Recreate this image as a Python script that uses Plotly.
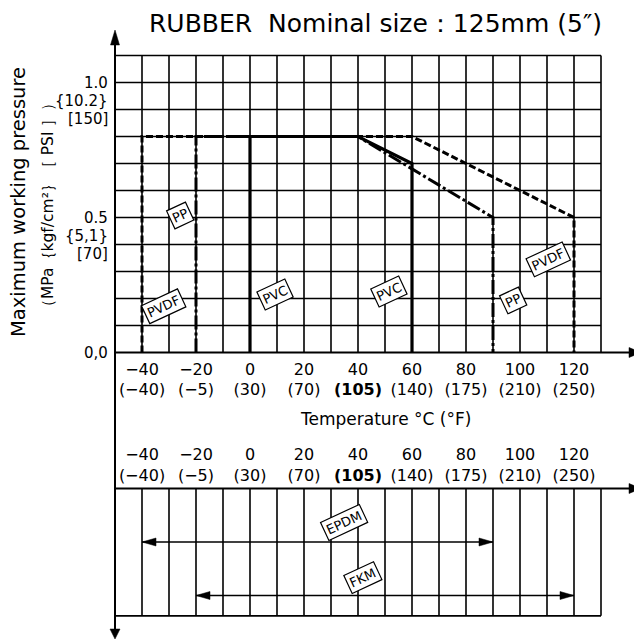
import plotly.graph_objects as go

# ---------------- data ----------------
temp_ticks_c = [-40, -20, 0, 20, 40, 60, 80, 100, 120]
temp_ticks_f = [-40, -5, 30, 70, 105, 140, 175, 210, 250]
grid_temps = [-40, -30, -20, -10, 0, 10, 20, 30, 40, 50, 60, 70, 80, 90, 100, 110, 120, 130]
grid_pressures = [0.1, 0.2, 0.3, 0.4, 0.5, 0.6, 0.7, 0.8, 0.9, 1.0, 1.1]

pressure_ticks = [1.0, 0.5, 0.0]
pressure_tick_lines = [["1.0", "{10.2}", "[150]"], ["0.5", "{5,1}", "[70]"], ["0,0"]]

pvdf_t = [-40, -40, 60, 120, 120]
pvdf_p = [0, 0.8, 0.8, 0.5, 0]
pp_t = [-20, -20, 40, 90, 90]
pp_p = [0, 0.8, 0.8, 0.5, 0]
pvc_t = [0, 0, 40, 60, 60]
pvc_p = [0, 0.8, 0.8, 0.7, 0]

rubber_names = ["EPDM", "FKM"]
rubber_min = [-40, -20]
rubber_max = [90, 120]
rubber_rows = [1, 2]

# ---------------- layout constants ----------------
W, H = 642, 641
OFF = 8  # page body margin


def px2T(px):
    return (px - 250) / 2.7


def py2P(py):
    return (352.5 - py) / 270


def py2V(py):
    return (py - 488.5) / 53.5


def pxp(px):
    return (px - OFF) / W


def pyp(py):
    return 1 - (py - OFF) / H


X_RANGE = [px2T(OFF), px2T(OFF + W)]
Y_RANGE = [py2P(OFF + H), py2P(OFF)]
Y2_RANGE = [py2V(OFF + H), py2V(OFF)]
T_AXIS = -50
T_GRID_MAX = 130
T_TIP = px2T(641)
P_TOP_TIP = py2P(30)
P_BOTTOM_TIP = py2P(639)
LOWER_BOTTOM = 2.38
FONT = "DejaVu Sans"

fig = go.Figure()

# upper grid
gx, gy = [], []
for t in grid_temps:
    gx += [t, t, None]
    gy += [0, grid_pressures[-1], None]
for p in grid_pressures:
    gx += [T_AXIS, T_GRID_MAX, None]
    gy += [p, p, None]
fig.add_trace(go.Scatter(x=gx, y=gy, mode="lines", line=dict(color="black", width=1.6),
                         hoverinfo="skip", showlegend=False))

# lower grid
lx, ly = [], []
for t in grid_temps:
    lx += [t, t, None]
    ly += [0, LOWER_BOTTOM, None]
lx += [T_AXIS, T_GRID_MAX, None]
ly += [LOWER_BOTTOM, LOWER_BOTTOM, None]
fig.add_trace(go.Scatter(x=lx, y=ly, xaxis="x2", yaxis="y2", mode="lines",
                         line=dict(color="black", width=1.6), hoverinfo="skip", showlegend=False))

# axis lines
fig.add_trace(go.Scatter(x=[T_AXIS, T_AXIS], y=[P_TOP_TIP - 0.02, P_BOTTOM_TIP + 0.02], mode="lines",
                         line=dict(color="black", width=2), hoverinfo="skip", showlegend=False))
fig.add_trace(go.Scatter(x=[T_AXIS, T_TIP - 3], y=[0, 0], mode="lines",
                         line=dict(color="black", width=2), hoverinfo="skip", showlegend=False))
fig.add_trace(go.Scatter(x=[T_AXIS, T_TIP - 3], y=[0, 0], xaxis="x2", yaxis="y2", mode="lines",
                         line=dict(color="black", width=2), hoverinfo="skip", showlegend=False))

# series
fig.add_trace(go.Scatter(x=pvdf_t, y=pvdf_p, mode="lines", name="PVDF",
                         line=dict(color="black", width=3, dash="7px,3px"), showlegend=False))
fig.add_trace(go.Scatter(x=pp_t, y=pp_p, mode="lines", name="PP",
                         line=dict(color="black", width=3, dash="14px,3px,3px,3px"), showlegend=False))
fig.add_trace(go.Scatter(x=pvc_t, y=pvc_p, mode="lines", name="PVC",
                         line=dict(color="black", width=3.2), showlegend=False))

# rubber ranges
for name, a, b, r in zip(rubber_names, rubber_min, rubber_max, rubber_rows):
    fig.add_trace(go.Scatter(x=[a, b], y=[r, r], xaxis="x2", yaxis="y2", mode="lines", name=name,
                             line=dict(color="black", width=1.6), showlegend=False))

shapes = []


def arrowhead(x, y, direction, xref="x", yref="y", L=15, hw=4.5):
    paths = {
        "up": f"M0,0 L{-hw},{-L} L{hw},{-L} Z",
        "down": f"M0,0 L{-hw},{L} L{hw},{L} Z",
        "right": f"M0,0 L{-L},{-hw} L{-L},{hw} Z",
        "left": f"M0,0 L{L},{-hw} L{L},{hw} Z",
    }
    shapes.append(dict(type="path", xref=xref, yref=yref, xsizemode="pixel", ysizemode="pixel",
                       xanchor=x, yanchor=y, path=paths[direction],
                       fillcolor="black", line=dict(color="black", width=0.5)))


arrowhead(T_AXIS, P_TOP_TIP, "up")
arrowhead(T_AXIS, P_BOTTOM_TIP, "down", L=10, hw=5)
arrowhead(T_TIP, 0, "right", L=12, hw=5)
arrowhead(T_TIP, 0, "right", xref="x2", yref="y2", L=12, hw=5)
for a, b, r in zip(rubber_min, rubber_max, rubber_rows):
    arrowhead(a, r, "left", xref="x2", yref="y2", L=14, hw=4)
    arrowhead(b, r, "right", xref="x2", yref="y2", L=14, hw=4)

ann = []
# title
ann.append(dict(text="RUBBER  Nominal size：125mm (5″)", x=pxp(375), y=pyp(23), xref="paper", yref="paper",
                showarrow=False, font=dict(family=FONT, size=25, color="black"),
                xanchor="center", yanchor="middle"))
# y titles
ann.append(dict(text="Maximum working pressure", x=pxp(19), y=pyp(202), xref="paper", yref="paper",
                showarrow=False, textangle=-90, xanchor="center", yanchor="middle",
                font=dict(family=FONT, size=19.5, color="black")))
ann.append(dict(text="（MPa｛kgf/cm²｝［ PSI ］）", x=pxp(48), y=pyp(205), xref="paper", yref="paper",
                showarrow=False, textangle=-90, xanchor="center", yanchor="middle",
                font=dict(family=FONT, size=15.5, color="black")))
# y tick labels
for val, lines in zip(pressure_ticks, pressure_tick_lines):
    for i, s in enumerate(lines):
        ann.append(dict(text=s, x=T_AXIS, y=val, xref="x", yref="y", xanchor="right", yanchor="middle",
                        xshift=-5, yshift=-18 * i, showarrow=False,
                        font=dict(family=FONT, size=15, color="black")))
# x title
ann.append(dict(text="Temperature °C (°F)", x=pxp(386), y=pyp(419), xref="paper", yref="paper",
                showarrow=False, xanchor="center", yanchor="middle",
                font=dict(family=FONT, size=17, color="black")))

# boxed labels
labels = [("PP", -25.9, 0.509, "y", "x"), ("PVDF", -32.2, 0.172, "y", "x"), ("PVC", 9.3, 0.215, "y", "x"),
          ("PVC", 51.5, 0.225, "y", "x"), ("PP", 97.4, 0.194, "y", "x"), ("PVDF", 110.4, 0.343, "y", "x"),
          ("EPDM", 34.8, 0.63, "y2", "x2"), ("FKM", 41.9, 1.67, "y2", "x2")]
for s, x, y, yr, xr in labels:
    ann.append(dict(text=s, x=x, y=y, xref=xr, yref=yr, showarrow=False, textangle=-25,
                    bordercolor="black", borderwidth=1.2, borderpad=2, bgcolor="white",
                    font=dict(family=FONT, size=13, color="black")))


def tick_text(c, f):
    cs = f"{c}".replace("-", "−")
    fs = f"({f})".replace("-", "−")
    if c == 40:
        fs = f"<b>{fs}</b>"
    return f"{cs}<br>{fs}"


ticktext = [tick_text(c, f) for c, f in zip(temp_ticks_c, temp_ticks_f)]

fig.update_layout(
    width=W, height=H, margin=dict(l=0, r=0, t=0, b=0),
    paper_bgcolor="white", plot_bgcolor="white",
    shapes=shapes, annotations=ann, showlegend=False,
    xaxis=dict(range=X_RANGE, anchor="free", position=pyp(352.5), showgrid=False, zeroline=False,
               showline=False, tickvals=temp_ticks_c, ticktext=ticktext, ticks="", ticklabelstandoff=5,
               tickfont=dict(family=FONT, size=16, color="black")),
    xaxis2=dict(range=X_RANGE, overlaying="x", anchor="free", position=pyp(488.5), side="top",
                showgrid=False, zeroline=False, showline=False, tickvals=temp_ticks_c, ticktext=ticktext,
                ticks="", ticklabelstandoff=4, tickfont=dict(family=FONT, size=16, color="black")),
    yaxis=dict(range=Y_RANGE, visible=False, showgrid=False, zeroline=False),
    yaxis2=dict(range=Y2_RANGE, overlaying="y", anchor="x2", visible=False, showgrid=False, zeroline=False),
)

fig.write_html("out.html")
